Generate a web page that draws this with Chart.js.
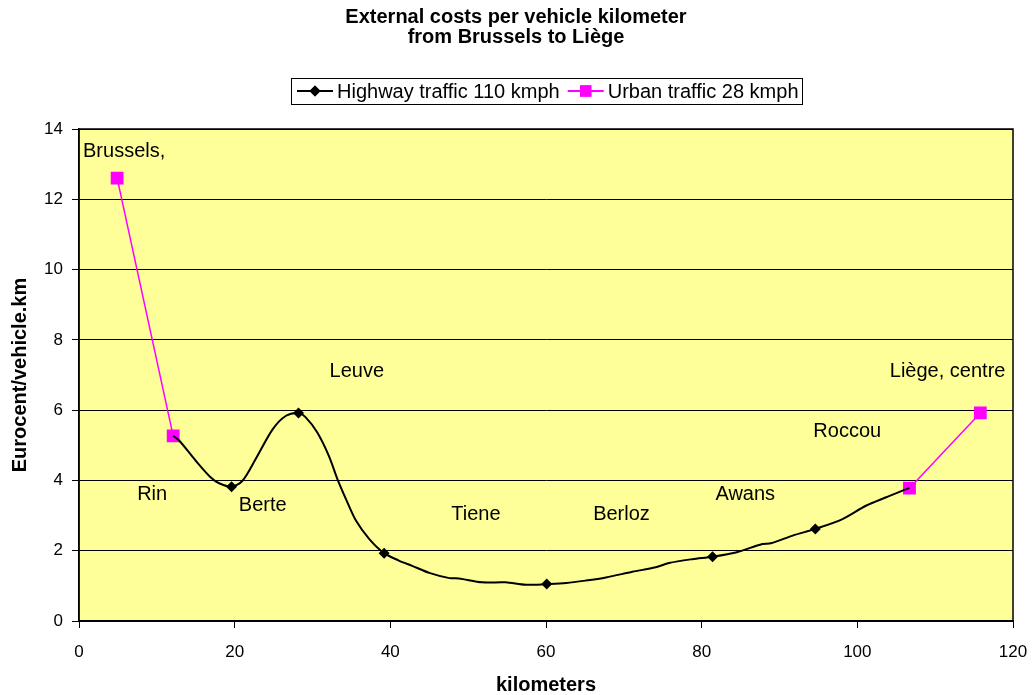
<!DOCTYPE html>
<html>
<head>
<meta charset="utf-8">
<script src="https://cdn.jsdelivr.net/npm/chart.js@4.4.0/dist/chart.umd.min.js"></script>
<style>
  html, body { margin: 0; padding: 0; background: #fff; }
  #wrap { width: 1032px; height: 695px; }
</style>
</head>
<body>
<div id="wrap"><canvas id="costChart" width="1032" height="695"></canvas></div>
<script>
// Highway traffic 110 kmph - traced curve (km, eurocent/vehicle.km)
const highwayKm = [12.1, 12.9, 15.0, 16.9, 18.0, 19.6, 21.0, 22.7, 24.9, 26.6, 28.2, 29.1, 30.6, 32.1, 33.2,
    34.3, 35.6, 37.3, 39.2, 41.1, 42.8, 45.0, 47.6, 48.8, 51.8, 54.8, 57.4, 60.1, 62.6, 65.1, 67.7,
    71.1, 74.1, 75.8, 78.8, 81.4, 84.4, 87.8, 88.9, 91.7, 94.6, 98.1, 101.1, 103.7, 105.8, 106.7];
const highwayCost = [5.27, 5.13, 4.56, 4.09, 3.92, 3.82, 3.99, 4.61, 5.46, 5.84, 5.92, 5.80, 5.37, 4.70, 4.04,
    3.47, 2.85, 2.33, 1.93, 1.72, 1.57, 1.37, 1.22, 1.21, 1.10, 1.10, 1.03, 1.05, 1.08, 1.15, 1.24,
    1.40, 1.53, 1.65, 1.76, 1.83, 1.95, 2.19, 2.21, 2.43, 2.62, 2.90, 3.28, 3.52, 3.71, 3.78];

// Highway marker points
const markKm = [19.6, 28.2, 39.2, 60.1, 81.4, 94.6];
const markCost = [3.82, 5.92, 1.93, 1.05, 1.83, 2.62];

// Urban traffic 28 kmph (two stretches: leaving Brussels, entering Liège)
const urbanStartKm = [4.9, 12.1];
const urbanStartCost = [12.6, 5.27];
const urbanEndKm = [106.7, 115.8];
const urbanEndCost = [3.78, 5.92];

// Place names along the route (km, level on cost axis)
const placeNames = ['Brussels,', 'Rin', 'Berte', 'Leuve', 'Tiene', 'Berloz', 'Awans', 'Roccou', 'Liège, centre'];
const placeKm = [5.8, 9.4, 23.6, 35.7, 51.0, 69.7, 85.6, 98.7, 111.6];
const placeCost = [13.35, 3.61, 3.30, 7.11, 3.02, 3.02, 3.59, 5.38, 7.11];

const kmTicks = [0, 20, 40, 60, 80, 100, 120];
const costTicks = [0, 2, 4, 6, 8, 10, 12, 14];

const FONT = "Arial, 'Liberation Sans', sans-serif";
const PINK = '#FF00FF';
const PLOT_BG = '#FFFF99';

const toPoints = (xs, ys) => xs.map((x, i) => ({ x: x, y: ys[i] }));

const chartFrame = {
    id: 'chartFrame',
    beforeDraw(chart) {
        const { ctx, chartArea: a } = chart;
        ctx.save();
        ctx.fillStyle = PLOT_BG;
        ctx.fillRect(a.left, a.top, a.right - a.left, a.bottom - a.top);
        ctx.restore();
    },
    beforeDatasetsDraw(chart) {
        // place names
        const { ctx, scales } = chart;
        ctx.save();
        ctx.font = '20px ' + FONT;
        ctx.fillStyle = '#000';
        ctx.textAlign = 'center';
        ctx.textBaseline = 'middle';
        placeNames.forEach((name, i) => {
            ctx.fillText(name, scales.x.getPixelForValue(placeKm[i]), scales.y.getPixelForValue(placeCost[i]));
        });
        ctx.restore();
    },
    afterDraw(chart) {
        const { ctx, chartArea: a } = chart;
        ctx.save();
        ctx.strokeStyle = '#000';
        ctx.lineWidth = 1.5;
        ctx.strokeRect(a.left, a.top, a.right - a.left, a.bottom - a.top);

        // legend
        const items = [
            { text: 'Highway traffic 110 kmph', color: '#000', style: 'rectRot', r: 5.5 },
            { text: 'Urban traffic 28 kmph', color: PINK, style: 'rect', r: 8 }
        ];
        ctx.font = '20px ' + FONT;
        const sample = 36, gap = 4, space = 8, padL = 6, padR = 3;
        let total = padL + padR;
        items.forEach((it, i) => {
            it.w = ctx.measureText(it.text).width;
            total += sample + gap + it.w + (i ? space : 0);
        });
        const cy = 91;
        let x = Math.round((a.left + a.right) / 2 - total / 2);
        ctx.lineWidth = 1;
        ctx.strokeStyle = '#000';
        ctx.strokeRect(x + 0.5, 78.5, Math.round(total), 26);
        x += padL;
        ctx.textBaseline = 'middle';
        ctx.textAlign = 'left';
        items.forEach((it, i) => {
            if (i) x += space;
            ctx.strokeStyle = it.color;
            ctx.lineWidth = 2;
            ctx.beginPath();
            ctx.moveTo(x, cy);
            ctx.lineTo(x + sample, cy);
            ctx.stroke();
            ctx.fillStyle = it.color;
            Chart.helpers.drawPoint(ctx, { pointStyle: it.style, radius: it.r, borderWidth: 0 }, x + sample / 2, cy);
            ctx.fill();
            x += sample + gap;
            ctx.fillStyle = '#000';
            ctx.fillText(it.text, x, cy + 1);
            x += it.w;
        });
        ctx.restore();
    }
};

new Chart(document.getElementById('costChart'), {
    type: 'scatter',
    data: {
        datasets: [
            {
                label: 'Highway traffic 110 kmph',
                data: toPoints(highwayKm, highwayCost),
                showLine: true,
                borderColor: '#000',
                borderWidth: 2,
                tension: 0.3,
                pointRadius: 0
            },
            {
                label: 'Highway markers',
                data: toPoints(markKm, markCost),
                showLine: false,
                pointStyle: 'rectRot',
                pointRadius: 5.5,
                backgroundColor: '#000',
                borderColor: '#000',
                borderWidth: 0
            },
            {
                label: 'Urban traffic 28 kmph',
                data: toPoints(urbanStartKm, urbanStartCost),
                showLine: true,
                borderColor: PINK,
                borderWidth: 1.5,
                pointStyle: 'rect',
                pointRadius: 8,
                backgroundColor: PINK
            },
            {
                label: 'Urban traffic 28 kmph (Liège)',
                data: toPoints(urbanEndKm, urbanEndCost),
                showLine: true,
                borderColor: PINK,
                borderWidth: 1.5,
                pointStyle: 'rect',
                pointRadius: 8,
                backgroundColor: PINK
            }
        ]
    },
    options: {
        responsive: false,
        animation: false,
        layout: { padding: { left: 19, right: 19, top: 0, bottom: 0 } },
        plugins: {
            legend: { display: false },
            tooltip: { enabled: false },
            title: {
                display: true,
                text: ['External costs per vehicle kilometer', 'from Brussels to Liège'],
                color: '#000',
                font: { family: FONT, size: 20, weight: 'bold', lineHeight: 1.0 },
                padding: { top: 7, bottom: 82 }
            }
        },
        scales: {
            x: {
                type: 'linear',
                min: kmTicks[0],
                max: kmTicks[kmTicks.length - 1],
                afterFit: s => { s.height = 74; s.paddingLeft = 0; s.paddingRight = 0; },
                afterBuildTicks: s => { s.ticks = kmTicks.map(v => ({ value: v })); },
                ticks: { color: '#000', font: { family: FONT, size: 17 }, padding: 14, maxRotation: 0 },
                grid: { drawOnChartArea: false, drawTicks: true, tickLength: 7, color: '#000', lineWidth: 1 },
                border: { display: true, color: '#000', width: 1.5 },
                title: {
                    display: true,
                    text: 'kilometers',
                    color: '#000',
                    font: { family: FONT, size: 20, weight: 'bold', lineHeight: 1.0 },
                    padding: { top: 0, bottom: 0 }
                }
            },
            y: {
                type: 'linear',
                min: costTicks[0],
                max: costTicks[costTicks.length - 1],
                afterFit: s => { s.width = 60; },
                afterBuildTicks: s => { s.ticks = costTicks.map(v => ({ value: v })); },
                ticks: { color: '#000', font: { family: FONT, size: 17 }, padding: 9 },
                grid: { color: '#000', lineWidth: 1, tickLength: 7, drawTicks: true },
                border: { display: true, color: '#000', width: 1.5 },
                title: {
                    display: true,
                    text: 'Eurocent/vehicle.km',
                    color: '#000',
                    font: { family: FONT, size: 20, weight: 'bold' },
                    padding: { top: -11, bottom: 0 }
                }
            }
        }
    },
    plugins: [chartFrame]
});
</script>
</body>
</html>
